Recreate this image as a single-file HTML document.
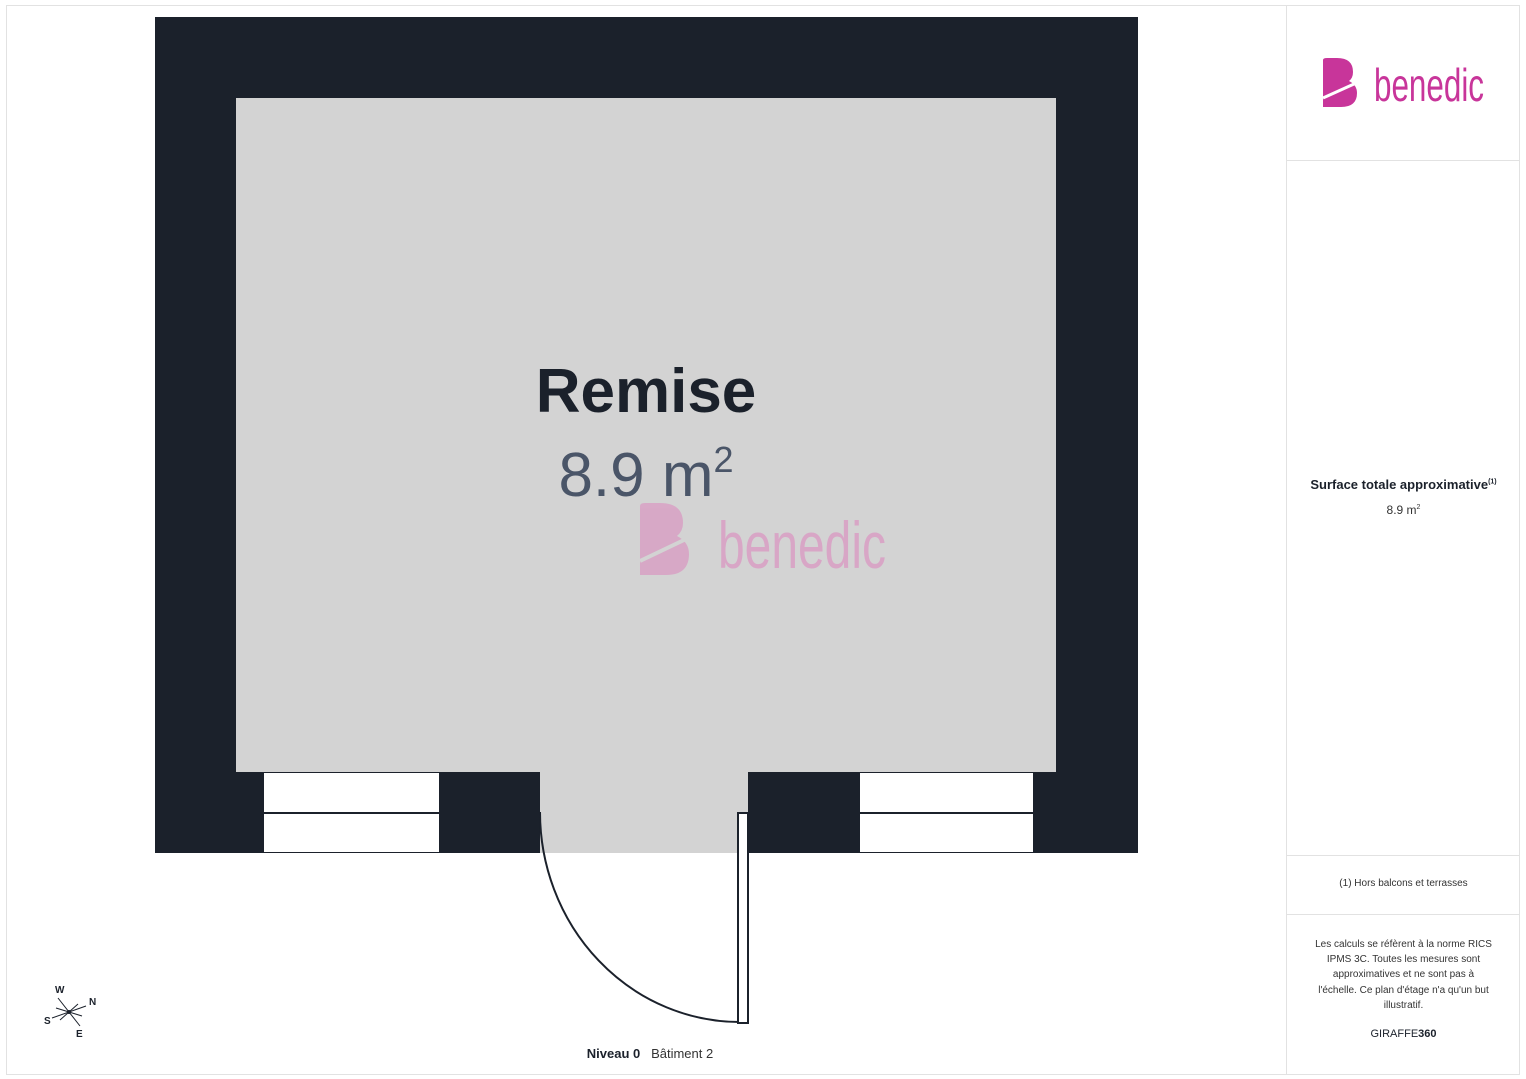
<!DOCTYPE html>
<html><head><meta charset="utf-8"><style>
html,body{margin:0;padding:0;background:#fff;}
body{width:1526px;height:1079px;position:relative;overflow:hidden;font-family:"Liberation Sans",sans-serif;}
.t{position:absolute;text-align:center;color:#1b212b;}
</style></head><body>
<svg width="1526" height="1079" style="position:absolute;left:0;top:0">
<rect x="6.5" y="5.5" width="1513" height="1069" fill="none" stroke="#e2e2e2"/>
<line x1="1286.5" y1="5" x2="1286.5" y2="1074" stroke="#e2e2e2"/>
<line x1="1287" y1="160.5" x2="1520" y2="160.5" stroke="#e2e2e2"/>
<line x1="1287" y1="855.5" x2="1520" y2="855.5" stroke="#e2e2e2"/>
<line x1="1287" y1="914.5" x2="1520" y2="914.5" stroke="#e2e2e2"/>
<rect x="155" y="17" width="983" height="836" fill="#1b212b"/>
<rect x="236" y="98" width="820" height="674" fill="#d3d3d3"/>
<rect x="540" y="770" width="208" height="83" fill="#d3d3d3"/>
<rect x="264" y="773" width="175" height="39" fill="#fff"/>
<rect x="264" y="814" width="175" height="38" fill="#fff"/>
<rect x="860" y="773" width="173" height="39" fill="#fff"/>
<rect x="860" y="814" width="173" height="38" fill="#fff"/>
<path d="M540 812 A200 210 0 0 0 740 1022" fill="none" stroke="#1b212b" stroke-width="2"/>
<rect x="738" y="813" width="10" height="210" fill="#fff" stroke="#1b212b" stroke-width="2"/>
<g stroke="#1b212b" stroke-width="1">
<line x1="58" y1="998" x2="80" y2="1026"/><line x1="52" y1="1018" x2="86" y2="1006"/>
<line x1="60" y1="1020" x2="78" y2="1004"/><line x1="56" y1="1008" x2="82" y2="1016"/>
</g>
<circle cx="69" cy="1012" r="2" fill="#1b212b"/>
<g font-family="Liberation Sans" font-weight="bold" font-size="10" fill="#1b212b">
<text x="55" y="993">W</text><text x="89" y="1005">N</text><text x="44" y="1024">S</text><text x="76" y="1037">E</text>
</g>
<g fill="#c8359a">
<path d="M1323 60 q0-2 4-2 h10 q16 0 16 14 q0 6-4 9 q8 4 8 12 q0 14-16 14 h-18 z"/>
<path d="M1323 98 L1354 84" stroke="#fff" stroke-width="3"/>
</g>
<text x="1374" y="101" font-family="Liberation Sans" font-size="46" fill="#c8359a" textLength="110" lengthAdjust="spacingAndGlyphs">benedic</text>
<g fill="#d8a6c6" opacity="0.95">
<path d="M640 506 q0-3 5-3 h15 q23 0 23 20 q0 8-6 13 q12 6 12 18 q0 21-23 21 h-26 z"/>
<path d="M640 561 L684 540" stroke="#d3d3d3" stroke-width="4"/>
</g>
<text x="718" y="568" font-family="Liberation Sans" font-size="66" fill="#d8a6c6" textLength="168" lengthAdjust="spacingAndGlyphs">benedic</text>
</svg>
<div class="t" style="left:446px;top:356px;width:400px;font-size:62px;font-weight:bold;">Remise</div>
<div class="t" style="left:446px;top:440px;width:400px;font-size:62px;color:#4a5568;">8.9 m<sup style="font-size:36px;vertical-align:24px;line-height:0">2</sup></div>
<div class="t" style="left:1287px;top:477px;width:233px;font-size:13px;font-weight:bold;">Surface totale approximative<sup style="font-size:7px">(1)</sup></div>
<div class="t" style="left:1287px;top:503px;width:233px;font-size:12px;color:#333;">8.9 m<sup style="font-size:7px">2</sup></div>
<div class="t" style="left:1287px;top:878px;width:233px;font-size:10px;color:#333;">(1) Hors balcons et terrasses</div>
<div class="t" style="left:1287px;top:937px;width:233px;font-size:10px;line-height:15.2px;color:#333;">Les calculs se réfèrent à la norme RICS<br>IPMS 3C. Toutes les mesures sont<br>approximatives et ne sont pas à<br>l'échelle. Ce plan d'étage n'a qu'un but<br>illustratif.</div>
<div class="t" style="left:1287px;top:1028px;width:233px;font-size:11px;color:#1b212b;">GIRAFFE<b>360</b></div>
<div class="t" style="left:500px;top:1046px;width:300px;font-size:13px;"><b>Niveau 0</b>&nbsp;&nbsp; <span style="color:#333">Bâtiment 2</span></div>
</body></html>
